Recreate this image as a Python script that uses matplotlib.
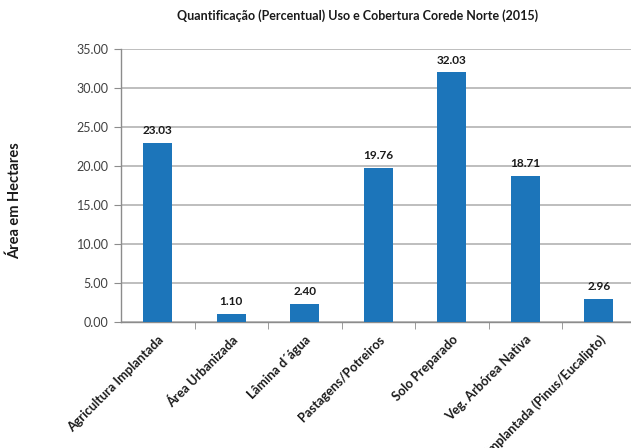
import matplotlib
matplotlib.use("Agg")
import matplotlib.pyplot as plt
from matplotlib.ticker import FormatStrFormatter

categories = ["Agricultura Implantada", "Área Urbanizada", "Lâmina d´água",
              "Pastagens/Potreiros", "Solo Preparado", "Veg. Arbórea Nativa",
              "Implantada (Pinus/Eucalipto)"]
values = [23.03, 1.10, 2.40, 19.76, 32.03, 18.71, 2.96]

plt.rcParams['font.family'] = ['Lato', 'DejaVu Sans']

W, H = 631, 448
fig = plt.figure(figsize=(W / 100, H / 100), dpi=100)
x0, x1 = 121, 635.5
y_top, y_bot = 49.3, 322.3
ax = fig.add_axes([x0 / W, 1 - y_bot / H, (x1 - x0) / W, (y_bot - y_top) / H])

xs = list(range(len(categories)))
ax.bar(xs, values, width=0.4, color="#1C75BA", zorder=3)
for x, v in zip(xs, values):
    ax.annotate(f"{v:.2f}", (x, v), xytext=(0, 5), textcoords="offset points",
                ha="center", va="bottom", fontsize=8.5, fontweight="bold", color="#1a1a1a")

ax.set_xlim(-0.5, len(categories) - 0.5)
ax.set_ylim(0, 35)
ax.set_yticks([0, 5, 10, 15, 20, 25, 30, 35])
ax.yaxis.set_major_formatter(FormatStrFormatter("%.2f"))
ax.grid(axis="y", color="#BEBEBE", linewidth=1.4, zorder=0)
ax.set_axisbelow(True)

for s in ["top", "right"]:
    ax.spines[s].set_visible(False)
for s in ["left", "bottom"]:
    ax.spines[s].set_color("#8C8C8C")
    ax.spines[s].set_linewidth(1.0)

ax.set_xticks([i - 0.5 for i in range(1, len(categories))], minor=True)
ax.set_xticks(xs)
ax.set_xticklabels(categories, rotation=45, ha="right", rotation_mode="anchor",
                   fontsize=9.2, fontweight="bold", color="#1a1a1a")
ax.tick_params(axis="x", which="major", length=0, pad=8)
ax.tick_params(axis="x", which="minor", length=5, color="#8C8C8C", direction="out")
ax.tick_params(axis="y", length=5, color="#8C8C8C", labelsize=9, labelcolor="#404040", pad=4)

fig.text(358 / W, 1 - 16 / H, "Quantificação (Percentual) Uso e Cobertura Corede Norte (2015)",
         ha="center", va="center", fontsize=9.0, fontweight="bold", color="#1a1a1a")
fig.text(15 / W, 1 - 201 / H, "Área em Hectares", rotation=90, ha="center", va="center",
         fontsize=10.5, fontweight="bold", color="#1a1a1a")

fig.savefig("out.png", dpi=100)
